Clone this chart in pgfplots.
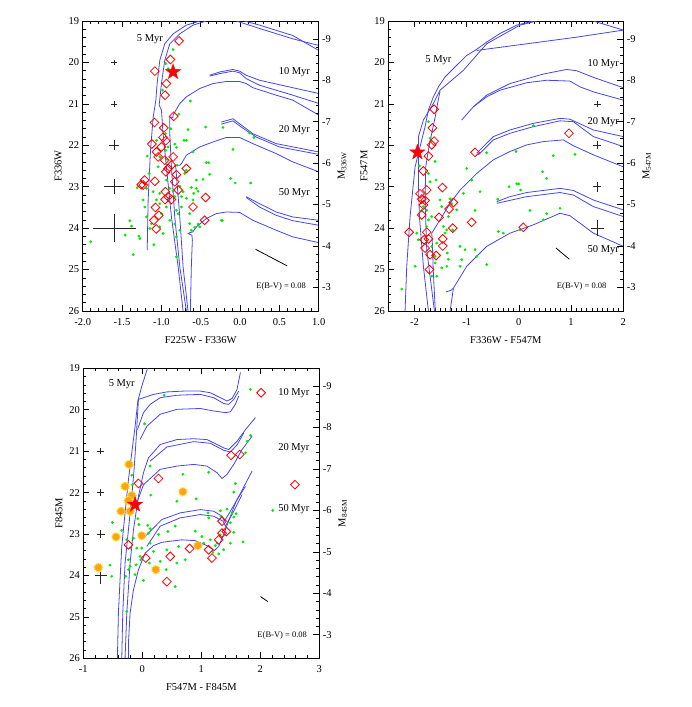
\documentclass[border=0pt]{standalone}
\usepackage{fontspec}
\setmainfont{Liberation Serif}
\usepackage{pgfplots}
\pgfplotsset{compat=1.18}

\definecolor{isoblue}{RGB}{70,70,235}
\definecolor{dotgreen}{RGB}{0,235,0}
\definecolor{diared}{RGB}{255,0,0}
\definecolor{burstfill}{RGB}{255,160,30}
\definecolor{burstedge}{RGB}{255,215,0}
\newcommand\lab{\fontsize{10.5}{12}\selectfont}
\newcommand\ebv{\fontsize{8.5}{10}\selectfont}

% filled five-point star
\pgfdeclareplotmark{fstar}{%
  \pgfpathmoveto{\pgfqpointpolar{90}{\pgfplotmarksize}}%
  \pgfpathlineto{\pgfqpointpolar{126}{0.4\pgfplotmarksize}}%
  \pgfpathlineto{\pgfqpointpolar{162}{\pgfplotmarksize}}%
  \pgfpathlineto{\pgfqpointpolar{198}{0.4\pgfplotmarksize}}%
  \pgfpathlineto{\pgfqpointpolar{234}{\pgfplotmarksize}}%
  \pgfpathlineto{\pgfqpointpolar{270}{0.4\pgfplotmarksize}}%
  \pgfpathlineto{\pgfqpointpolar{306}{\pgfplotmarksize}}%
  \pgfpathlineto{\pgfqpointpolar{342}{0.4\pgfplotmarksize}}%
  \pgfpathlineto{\pgfqpointpolar{18}{\pgfplotmarksize}}%
  \pgfpathlineto{\pgfqpointpolar{54}{0.4\pgfplotmarksize}}%
  \pgfpathclose\pgfusepathqfillstroke}
% orange disc inside a spiky yellow rim
\pgfdeclareplotmark{burst}{%
  \pgfsetfillcolor{burstedge}%
  \pgfpathmoveto{\pgfqpointpolar{0}{1.4\pgfplotmarksize}}%
  \pgfpathlineto{\pgfqpointpolar{15}{\pgfplotmarksize}}%
  \pgfpathlineto{\pgfqpointpolar{30}{1.4\pgfplotmarksize}}%
  \pgfpathlineto{\pgfqpointpolar{45}{\pgfplotmarksize}}%
  \pgfpathlineto{\pgfqpointpolar{60}{1.4\pgfplotmarksize}}%
  \pgfpathlineto{\pgfqpointpolar{75}{\pgfplotmarksize}}%
  \pgfpathlineto{\pgfqpointpolar{90}{1.4\pgfplotmarksize}}%
  \pgfpathlineto{\pgfqpointpolar{105}{\pgfplotmarksize}}%
  \pgfpathlineto{\pgfqpointpolar{120}{1.4\pgfplotmarksize}}%
  \pgfpathlineto{\pgfqpointpolar{135}{\pgfplotmarksize}}%
  \pgfpathlineto{\pgfqpointpolar{150}{1.4\pgfplotmarksize}}%
  \pgfpathlineto{\pgfqpointpolar{165}{\pgfplotmarksize}}%
  \pgfpathlineto{\pgfqpointpolar{180}{1.4\pgfplotmarksize}}%
  \pgfpathlineto{\pgfqpointpolar{195}{\pgfplotmarksize}}%
  \pgfpathlineto{\pgfqpointpolar{210}{1.4\pgfplotmarksize}}%
  \pgfpathlineto{\pgfqpointpolar{225}{\pgfplotmarksize}}%
  \pgfpathlineto{\pgfqpointpolar{240}{1.4\pgfplotmarksize}}%
  \pgfpathlineto{\pgfqpointpolar{255}{\pgfplotmarksize}}%
  \pgfpathlineto{\pgfqpointpolar{270}{1.4\pgfplotmarksize}}%
  \pgfpathlineto{\pgfqpointpolar{285}{\pgfplotmarksize}}%
  \pgfpathlineto{\pgfqpointpolar{300}{1.4\pgfplotmarksize}}%
  \pgfpathlineto{\pgfqpointpolar{315}{\pgfplotmarksize}}%
  \pgfpathlineto{\pgfqpointpolar{330}{1.4\pgfplotmarksize}}%
  \pgfpathlineto{\pgfqpointpolar{345}{\pgfplotmarksize}}%
  \pgfpathclose\pgfusepathqfill
  \pgfsetfillcolor{burstfill}%
  \pgfpathcircle{\pgfpointorigin}{0.95\pgfplotmarksize}%
  \pgfusepathqfill}

\pgfplotsset{
  cmd/.style={
    scale only axis, width=236pt, height=290pt,
    y dir=reverse, ymin=19, ymax=26, ytick={19,...,26}, minor y tick num=4,
    xtick pos=both, ytick pos=left, tick align=inside,
    major tick length=6pt, minor tick length=3pt,
    every tick/.style={black, line width=0.6pt},
    axis line style={line width=0.6pt},
    tick label style={font=\lab}, label style={font=\lab},
    xticklabel shift=4pt, xlabel style={yshift=-4pt},
    /pgf/number format/assume math mode=true,
  },
  mag/.style={
    scale only axis, width=236pt, height=290pt,
    xmin=0, xmax=1,
    y dir=reverse, ymin=-9.43, ymax=-2.43, ytick={-9,...,-3}, minor y tick num=4,
    axis x line=none, axis y line*=right, tick align=inside,
    major tick length=6pt, minor tick length=3pt,
    every tick/.style={black, line width=0.6pt},
    axis line style={line width=0.6pt},
    tick label style={font=\lab}, label style={font=\lab},
    /pgf/number format/assume math mode=true,
  },
  isoline/.style={isoblue, line width=0.8pt, no markers},
  dots/.style={only marks, mark=*, mark size=1.2pt, draw=dotgreen, fill=dotgreen},
  dias/.style={only marks, mark=square, mark size=3.1pt, draw=diared, line width=0.8pt, mark options={rotate=45, fill=none}},
  bigstar/.style={only marks, mark=fstar, mark size=8pt, draw=diared, fill=diared},
  bursts/.style={only marks, mark=burst, mark size=3.6pt},
  errs/.style={draw=none, no markers, error bars/.cd, x dir=both, x explicit, y dir=both, y explicit,
    error mark=none, error bar style={draw=black!85, solid, line width=0.7pt}},
  redvec/.style={black, line width=0.8pt, no markers},
}

\begin{document}
\begin{tikzpicture}
\path (0pt,0pt) rectangle (692pt,707pt);

%% ---------------- F225W - F336W ----------------
\begin{axis}[cmd, at={(82.7pt,396pt)}, anchor=south west,
  xmin=-2, xmax=1, xtick={-2,-1.5,...,1}, minor x tick num=4,
  xticklabel style={/pgf/number format/.cd, fixed, fixed zerofill, precision=1},
  xlabel={F225W - F336W}, ylabel={F336W}]
\addplot[isoline] coordinates {(-1.180,24.53)(-1.168,23.32)(-1.138,22.12)(-1.104,21.32)(-1.083,21.07)(-1.070,20.91)(-1.054,20.51)(-1.020,19.95)(-0.957,19.55)(-0.851,19.31)(-0.682,19.10)(-0.513,19.0)};
\addplot[isoline] coordinates {(-0.724,26.0)(-0.787,24.93)(-0.872,23.73)(-0.936,22.52)(-0.978,21.72)(-0.999,21.15)(-1.028,21.03)(-0.999,20.51)(-0.957,19.95)(-0.893,19.55)(-0.766,19.31)(-0.598,19.10)(-0.429,19.0)};
\addplot[isoline] coordinates {(-0.048,19.0)(0.248,19.18)(0.670,19.43)(1.0,19.59)};
\addplot[isoline] coordinates {(0.058,19.0)(0.248,19.10)(0.670,19.35)(1.0,19.71)};
\addplot[isoline] coordinates {(-0.682,26.0)(-0.766,24.93)(-0.830,23.73)(-0.872,22.52)(-0.893,21.72)(-0.893,21.32)(-0.851,21.33)(-0.851,21.27)(-0.766,20.99)(-0.682,20.83)(-0.513,20.63)(-0.344,20.51)(-0.175,20.46)(-0.006,20.46)(0.079,20.51)(0.163,20.61)(0.459,20.79)(0.670,20.91)(1.0,21.27)};
\addplot[isoline] coordinates {(-0.386,20.31)(-0.259,20.23)(-0.090,20.17)(-0.006,20.21)(0.079,20.31)(0.248,20.43)(0.670,20.61)(1.0,20.75)};
\addplot[isoline] coordinates {(-0.386,20.33)(-0.259,20.27)(-0.090,20.21)(-0.006,20.25)(0.079,20.39)(0.248,20.55)(0.670,20.79)(1.0,20.99)};
\addplot[isoline] coordinates {(-0.661,26.0)(-0.724,24.93)(-0.766,23.73)(-0.800,22.92)(-0.817,22.52)(-0.830,22.48)(-0.766,22.48)(-0.745,22.44)(-0.682,22.24)(-0.513,22.04)(-0.344,21.92)(-0.175,21.81)(-0.006,21.81)(0.163,21.96)(0.459,22.20)(0.670,22.40)(1.0,22.64)};
\addplot[isoline] coordinates {(-0.238,21.44)(-0.090,21.36)(-0.006,21.48)(0.163,21.72)(0.459,21.96)(1.0,22.16)};
\addplot[isoline] coordinates {(-0.238,21.49)(-0.090,21.41)(0.015,21.56)(0.205,21.80)(0.501,22.04)(1.0,22.22)};
\addplot[isoline] coordinates {(-0.631,26.0)(-0.619,24.93)(-0.606,24.29)(-0.612,24.17)(-0.660,24.13)(-0.640,24.11)(-0.600,24.09)(-0.555,23.97)(-0.429,23.77)(-0.302,23.65)(-0.175,23.61)(-0.006,23.62)(0.163,23.81)(0.459,24.05)(0.670,24.21)(1.0,24.35)};
\addplot[isoline] coordinates {(0.079,23.24)(0.248,23.41)(0.459,23.61)(0.670,23.73)(1.0,23.81)};
\addplot[isoline] coordinates {(0.079,23.26)(0.248,23.49)(0.459,23.69)(0.670,23.82)(1.0,23.93)};
\addplot[dots] coordinates {
(-0.851,19.69)(-0.944,20.03)(-0.914,20.15)(-0.986,20.67)(-0.631,20.93)(-0.779,21.25)(-0.661,21.62)(-0.437,21.56)
(-0.217,21.57)(0.121,21.70)(0.176,21.81)(-0.682,21.88)(-0.712,21.88)(-0.830,21.97)(-0.809,22.05)(-0.944,22.12)
(-0.598,22.16)(-0.429,22.42)(-0.399,22.42)(-0.090,22.10)(-1.180,22.26)(-1.020,22.28)(-0.927,22.34)(-0.800,22.48)
(-0.682,22.60)(-0.703,22.68)(-0.386,22.70)(-0.555,22.84)(-0.471,22.82)(-0.120,22.80)(-0.061,22.91)(0.134,22.91)
(-1.307,23.02)(-1.189,23.04)(-1.104,23.12)(-1.020,23.16)(-0.893,23.04)(-0.851,23.10)(-0.766,22.99)(-0.724,23.12)
(-0.619,23.02)(-0.589,23.16)(-0.555,23.04)(-0.534,23.11)(-0.830,23.24)(-0.745,23.24)(-0.682,23.28)(-0.598,23.32)
(-1.231,23.32)(-1.020,23.41)(-0.936,23.49)(-0.809,23.57)(-0.745,23.49)(-0.640,23.65)(-1.189,23.73)(-1.125,23.89)
(-1.020,23.97)(-0.893,23.81)(-0.830,23.90)(-0.787,23.65)(-0.640,23.89)(-0.619,24.05)(-0.576,23.98)(-0.534,23.90)
(-0.513,23.97)(-0.238,23.81)(-0.226,23.82)(-1.400,23.82)(-1.379,23.95)(-1.459,24.17)(-1.286,24.19)(-1.273,24.25)
(-1.096,24.40)(-1.358,24.64)(-0.809,24.69)(-1.899,24.33)(-1.146,24.01)(-0.978,24.13)(-0.809,24.21)(-0.766,24.05)
(-1.210,23.49)(-0.999,23.65)(-1.062,23.32)(-0.936,22.84)(-1.155,22.68)(-1.041,22.52)(-0.914,22.04)(-0.880,21.60)
(-0.948,21.72)(-1.062,21.88)};
\addplot[dias] coordinates {
(-0.775,19.48)(-1.083,20.21)(-0.885,19.93)(-0.936,20.51)(-0.953,20.79)(-0.843,21.30)(-1.087,21.45)(-0.969,21.58)
(-0.978,21.81)(-0.944,21.89)(-1.121,21.97)(-1.062,22.16)(-1.041,22.28)(-0.957,22.36)(-0.872,22.48)(-0.914,22.56)
(-0.944,22.64)(-0.809,22.71)(-0.682,22.56)(-1.214,22.84)(-1.256,22.95)(-1.231,22.96)(-1.083,22.87)(-0.830,22.88)
(-0.787,23.08)(-0.948,23.12)(-0.914,23.24)(-0.872,23.31)(-0.953,23.31)(-1.075,23.50)(-1.032,23.69)(-1.096,23.81)
(-1.066,24.02)(-0.598,23.49)(-0.437,23.26)(-0.450,23.81)(-0.851,22.28)(-0.999,22.04)};
\addplot[bigstar] coordinates {(-0.851,20.23)};
\addplot[errs] coordinates {(-1.6,20) +- (0.034,0.065) (-1.6,21) +- (0.034,0.065) (-1.6,22) +- (0.063,0.12) (-1.6,23) +- (0.127,0.18) (-1.6,24) +- (0.275,0.34)};
\addplot[redvec] coordinates {(0.197,24.51)(0.598,24.91)};
\node[font=\lab] at (axis cs:-1.146,19.43) {5 Myr};
\node[font=\lab] at (axis cs:0.691,20.23) {10 Myr};
\node[font=\lab] at (axis cs:0.691,21.64) {20 Myr};
\node[font=\lab] at (axis cs:0.691,23.15) {50 Myr};
\node[font=\ebv] at (axis cs:0.522,25.41) {E(B-V) = 0.08};
\end{axis}
\begin{axis}[mag, at={(82.7pt,396pt)}, anchor=south west, ylabel={M\textsubscript{336W}}]
\end{axis}

%% ---------------- F336W - F547M ----------------
\begin{axis}[cmd, at={(388.3pt,396pt)}, anchor=south west, width=235pt,
  xmin=-2.5, xmax=2, xtick={-2,...,2}, minor x tick num=9,
  xlabel={F336W - F547M}, ylabel={F547M}]
\addplot[isoline] coordinates {(-2.179,26.0)(-2.147,24.92)(-2.083,23.72)(-1.987,22.52)(-1.860,21.87)(-1.796,21.55)(-1.732,21.15)(-1.636,20.83)(-1.541,20.59)(-1.413,20.35)(-1.190,20.07)(-0.998,19.83)(-0.839,19.71)(-0.616,19.51)(-0.360,19.30)(-0.041,19.10)(0.278,19.0)};
\addplot[isoline] coordinates {(-1.732,26.0)(-1.828,24.92)(-1.904,23.72)(-1.923,22.92)(-1.923,22.11)(-1.923,21.79)(-1.828,21.39)(-1.636,20.99)(-1.509,20.67)(-1.062,20.19)(-0.616,19.55)(0.022,19.10)(0.341,19.0)};
\addplot[isoline] coordinates {(-1.617,26.0)(-1.764,24.52)(-1.796,23.32)(-1.783,22.52)(-1.732,22.11)(-1.668,21.71)(-1.600,21.30)(-1.550,20.95)(-1.509,20.69)};
\addplot[isoline] coordinates {(-0.807,19.71)(0.150,19.55)(1.107,19.39)(2.0,19.22)};
\addplot[isoline] coordinates {(1.426,19.0)(2.0,19.22)};
\addplot[isoline] coordinates {(-0.871,21.07)(-0.616,20.79)(-0.169,20.51)(0.469,20.28)(0.915,20.17)(1.107,20.20)(1.426,20.36)(2.0,20.61)};
\addplot[isoline] coordinates {(-1.094,21.39)(-0.871,21.07)(-0.616,20.83)(-0.360,20.67)(0.150,20.49)(0.533,20.43)(0.979,20.45)(1.171,20.59)(1.426,20.71)(2.0,20.91)};
\addplot[isoline] coordinates {(-1.600,26.0)(-1.640,25.0)(-1.655,24.40)(-1.668,24.12)(-1.509,23.80)(-1.317,23.40)(-1.126,23.08)(-0.807,22.68)(-0.488,22.35)(-0.169,22.15)(0.150,21.99)(0.469,21.91)(0.851,21.87)(1.043,22.01)(1.426,22.23)(2.0,22.52)};
\addplot[isoline] coordinates {(-0.807,22.19)(-0.488,21.79)(-0.169,21.63)(0.278,21.47)(0.788,21.35)(0.979,21.37)(1.426,21.63)(2.0,21.79)};
\addplot[isoline] coordinates {(-0.775,22.23)(-0.488,21.87)(-0.169,21.71)(0.278,21.55)(0.788,21.41)(1.043,21.43)(1.426,21.79)(2.0,22.03)};
\addplot[isoline] coordinates {(-1.317,26.0)(-1.285,25.73)(-1.254,25.45)(-0.998,24.92)(-0.616,24.44)(-0.169,24.12)(0.278,23.92)(0.788,23.64)(0.979,23.70)(1.426,24.12)(2.0,24.44)};
\addplot[isoline] coordinates {(-1.394,25.54)(-1.300,25.50)(-1.254,25.45)};
\addplot[isoline] coordinates {(-0.424,23.36)(-0.169,23.24)(0.150,23.14)(0.788,23.04)(1.043,23.09)(1.426,23.32)(2.0,23.56)};
\addplot[isoline] coordinates {(-0.424,23.40)(0.150,23.24)(0.788,23.14)(1.043,23.20)(1.426,23.48)(2.0,23.72)};
\addplot[dots] coordinates {
(-1.732,21.43)(-1.700,21.83)(-1.604,22.39)(-1.904,22.50)(-1.732,22.68)(-1.700,22.88)(-1.585,22.84)(-1.509,23.32)
(-1.477,23.48)(-1.317,23.29)(-1.285,23.41)(-1.445,23.96)(-1.413,24.12)(-1.381,24.04)(-1.668,23.72)(-1.732,23.80)
(-1.828,23.48)(-1.860,23.57)(-1.764,23.57)(-1.764,23.96)(-1.955,24.12)(-1.923,24.28)(-1.668,24.44)(-1.573,24.36)
(-1.368,24.60)(-1.349,24.75)(-1.604,24.84)(-1.573,25.16)(-1.668,25.16)(-1.126,24.44)(-1.094,24.76)(-1.126,24.92)
(-1.030,24.52)(-0.998,22.56)(-0.903,22.84)(-0.743,23.12)(-0.616,22.18)(-0.405,23.30)(-0.188,23.00)(-0.054,22.15)
(-0.041,22.93)(-0.003,22.93)(0.035,23.08)(0.214,23.57)(0.456,22.64)(0.533,22.80)(0.660,22.25)(0.788,23.52)
(1.075,22.22)(0.278,21.53)(-0.392,24.08)(-0.297,24.12)(-0.839,24.52)(-0.807,24.68)(-0.616,24.88)(-1.062,23.16)
(-1.190,23.56)(-0.839,23.57)(-1.349,23.72)(-1.266,24.04)(-1.604,24.68)(-1.477,24.96)(-2.242,25.47)(-1.987,24.92)
(-1.381,24.92)(0.022,24.04)(0.469,23.80)(0.533,23.65)};
\addplot[dias] coordinates {
(-1.623,21.13)(-1.655,21.58)(-1.623,21.90)(-1.668,21.99)(-1.732,22.26)(-1.828,22.62)(-1.764,23.08)(-1.464,23.02)
(-1.860,23.30)(-1.828,23.44)(-1.860,23.68)(-1.528,23.74)(-1.254,23.38)(-1.337,23.54)(-1.266,24.00)(-0.903,23.86)
(-0.839,22.17)(0.960,21.71)(0.086,23.98)(-2.102,24.10)(-1.764,24.10)(-1.815,24.28)(-1.732,24.26)(-1.796,24.48)
(-1.700,24.64)(-1.585,24.66)(-1.457,24.26)(-1.457,24.43)(-1.713,25.00)(-1.892,23.17)(-1.796,23.33)};
\addplot[bigstar] coordinates {(-1.943,22.17)};
\addplot[errs] coordinates {(1.5,21) +- (0.064,0.08) (1.5,22) +- (0.077,0.10) (1.5,23) +- (0.077,0.12) (1.5,24) +- (0.128,0.20)};
\addplot[redvec] coordinates {(0.711,24.48)(0.966,24.75)};
\node[font=\lab] at (axis cs:-1.541,19.95) {5 Myr};
\node[font=\lab] at (axis cs:1.617,20.03) {10 Myr};
\node[font=\lab] at (axis cs:1.617,21.43) {20 Myr};
\node[font=\lab] at (axis cs:1.617,24.52) {50 Myr};
\node[font=\ebv] at (axis cs:1.203,25.40) {E(B-V) = 0.08};
\end{axis}
\begin{axis}[mag, at={(388.3pt,396pt)}, anchor=south west, width=235pt, ylabel={M\textsubscript{547M}}]
\end{axis}

%% ---------------- F547M - F845M ----------------
\begin{axis}[cmd, at={(83.3pt,48.7pt)}, anchor=south west,
  xmin=-1, xmax=3, xtick={-1,...,3}, minor x tick num=4,
  xlabel={F547M - F845M}, ylabel={F845M}]
\addplot[isoline] coordinates {(-0.422,26.0)(-0.405,24.91)(-0.377,24.10)(-0.348,23.30)(-0.292,22.49)(-0.235,21.69)(-0.178,21.04)(-0.122,20.40)(-0.076,19.79)(-0.008,19.43)(0.088,19.0)};
\addplot[isoline] coordinates {(-0.348,26.0)(-0.331,24.91)(-0.292,23.70)(-0.235,22.90)(-0.178,22.09)(-0.139,21.44)(-0.105,20.72)(-0.065,19.75)(0.190,19.63)(0.416,19.57)(0.700,19.55)(0.983,19.55)(1.153,19.59)(1.323,19.71)(1.436,19.79)(1.521,19.73)(1.606,19.51)(1.663,19.10)};
\addplot[isoline] coordinates {(-0.082,20.48)(0.020,20.07)(0.133,19.87)(0.303,19.71)(0.586,19.65)(0.983,19.63)(1.210,19.71)(1.380,19.85)(1.465,19.87)(1.550,19.75)(1.635,19.55)};
\addplot[isoline] coordinates {(-0.037,20.72)(0.076,20.40)(0.303,20.11)(0.586,19.99)(0.983,19.97)(1.210,20.03)(1.408,20.07)(1.493,20.05)(1.578,19.87)(1.635,19.67)};
\addplot[isoline] coordinates {(-0.292,26.0)(-0.263,24.91)(-0.207,23.70)(-0.150,22.90)(-0.065,22.09)(0.020,21.52)(0.105,21.16)(0.303,20.84)(0.586,20.72)(0.870,20.70)(1.096,20.72)(1.266,20.84)(1.380,20.92)(1.465,20.96)(1.606,20.76)(1.748,20.48)(1.918,20.19)};
\addplot[isoline] coordinates {(0.133,21.24)(0.416,20.90)(0.870,20.77)(1.153,20.81)(1.380,20.98)(1.493,21.02)(1.606,20.85)(1.720,20.56)};
\addplot[isoline] coordinates {(-0.093,22.25)(0.020,21.81)(0.303,21.44)(0.586,21.36)(0.870,21.32)(1.096,21.36)(1.266,21.52)(1.351,21.66)(1.436,21.56)(1.550,21.32)(1.691,20.96)(1.861,20.64)};
\addplot[isoline] coordinates {(-0.235,26.0)(-0.235,25.64)(-0.207,24.91)(-0.150,24.35)(-0.065,23.86)(0.048,23.46)(0.190,23.28)(0.331,23.20)(0.671,23.14)(0.898,23.16)(1.096,23.28)(1.221,23.40)(1.295,23.30)(1.408,22.90)(1.578,22.25)(1.861,21.48)};
\addplot[isoline] coordinates {(0.048,23.06)(0.331,22.65)(0.643,22.49)(0.983,22.41)(1.210,22.45)(1.351,22.57)(1.391,22.69)(1.493,22.45)(1.606,22.17)(1.748,21.85)};
\addplot[isoline] coordinates {(0.076,23.30)(0.303,22.81)(0.643,22.61)(0.983,22.53)(1.210,22.57)(1.368,22.69)(1.408,22.81)(1.521,22.53)(1.691,22.05)};
\addplot[dots] coordinates {
(0.371,19.65)(1.833,19.51)(0.037,20.34)(1.833,20.62)(1.776,20.76)(1.748,21.04)(-0.178,21.58)(0.133,21.36)
(0.688,21.56)(1.125,21.51)(-0.167,21.81)(0.144,22.06)(0.586,22.21)(0.915,22.15)(1.578,21.78)(1.550,21.99)
(2.212,22.43)(1.323,22.44)(1.436,22.40)(1.521,22.49)(1.550,22.59)(1.493,22.73)(1.589,22.51)(1.113,22.49)
(1.125,22.61)(1.334,22.57)(-0.507,22.72)(-0.076,22.63)(0.093,22.79)(0.133,22.87)(-0.059,22.77)(0.558,22.81)
(0.105,22.98)(0.275,23.01)(0.433,22.94)(0.898,22.93)(1.011,23.06)(1.040,23.22)(1.153,23.14)(1.323,23.02)
(1.550,22.96)(1.708,23.19)(1.266,23.22)(1.238,23.28)(1.380,23.38)(1.493,23.22)(1.198,23.44)(1.295,23.48)
(-0.348,22.91)(-0.263,23.14)(-0.150,23.10)(-0.093,23.34)(-0.207,23.34)(0.133,23.22)(-0.235,23.62)(-0.037,23.54)
(-0.025,23.62)(-0.207,23.78)(-0.105,23.74)(-0.547,23.75)(-0.518,24.02)(-0.235,23.86)(-0.280,24.02)(-0.122,23.98)
(0.122,23.70)(0.303,23.66)(0.416,23.38)(0.615,23.30)(0.728,23.62)(0.020,24.12)(0.405,23.86)(0.558,24.27)
(0.246,23.83)(-0.263,24.87)(-0.008,23.34)(0.190,23.42)(0.586,23.70)};
\addplot[dias] coordinates {
(2.014,19.59)(1.504,21.10)(1.652,21.08)(0.275,21.66)(-0.065,21.78)(2.587,21.81)(-0.235,23.26)(0.059,23.58)
(0.473,23.54)(0.803,23.35)(1.124,23.38)(1.181,23.58)(1.351,22.69)(1.425,22.94)(1.295,23.14)(1.351,22.98)(0.416,24.15)};
\addplot[bursts] coordinates {
(-0.224,21.32)(-0.292,21.85)(-0.178,22.07)(-0.235,22.19)(-0.360,22.45)(-0.207,22.45)(-0.445,23.07)(-0.008,23.04)
(-0.745,23.81)(0.229,23.86)(0.688,21.98)(0.943,23.28)};
\addplot[bigstar] coordinates {(-0.122,22.29)};
\addplot[errs] coordinates {(-0.705,21) +- (0.057,0.08) (-0.705,22) +- (0.057,0.08) (-0.705,23) +- (0.068,0.10) (-0.705,24) +- (0.10,0.20)};
\addplot[redvec] coordinates {(2.003,24.51)(2.127,24.63)};
\node[font=\lab] at (axis cs:-0.348,19.39) {5 Myr};
\node[font=\lab] at (axis cs:2.569,19.59) {10 Myr};
\node[font=\lab] at (axis cs:2.569,20.92) {20 Myr};
\node[font=\lab] at (axis cs:2.569,22.41) {50 Myr};
\node[font=\ebv] at (axis cs:2.371,25.44) {E(B-V) = 0.08};
\end{axis}
\begin{axis}[mag, at={(83.3pt,48.7pt)}, anchor=south west, ylabel={M\textsubscript{845M}}]
\end{axis}
\end{tikzpicture}
\end{document}
